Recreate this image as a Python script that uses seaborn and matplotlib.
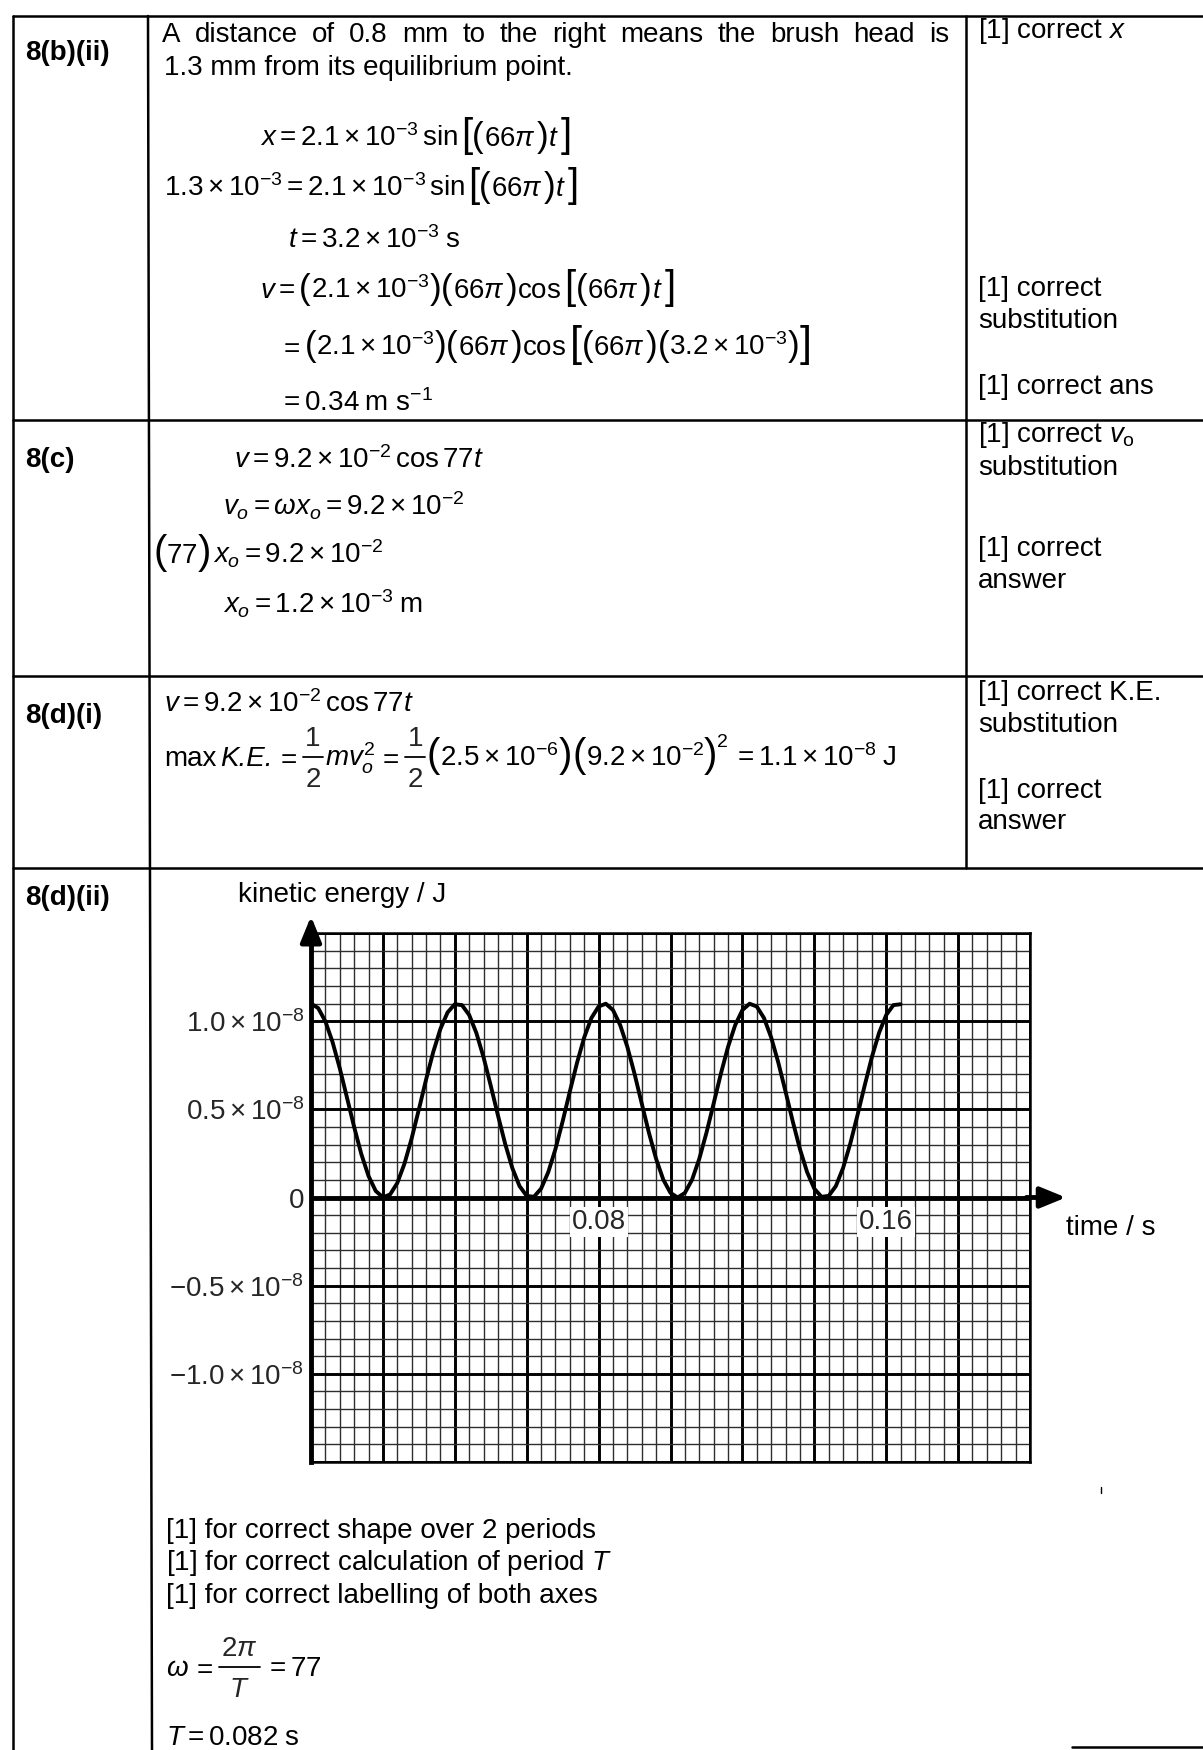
import matplotlib
matplotlib.use("Agg")
import matplotlib.pyplot as plt
import seaborn as sns
from matplotlib.ticker import MultipleLocator

# ---------------- data ----------------
time_s = [0.000, 0.002, 0.004, 0.006, 0.008, 0.010, 0.012, 0.014, 0.016, 0.018,
          0.020, 0.022, 0.024, 0.026, 0.028, 0.030, 0.032, 0.034, 0.036, 0.038,
          0.040, 0.042, 0.044, 0.046, 0.048, 0.050, 0.052, 0.054, 0.056, 0.058,
          0.060, 0.062, 0.064, 0.066, 0.068, 0.070, 0.072, 0.074, 0.076, 0.078,
          0.080, 0.082, 0.084, 0.086, 0.088, 0.090, 0.092, 0.094, 0.096, 0.098,
          0.100, 0.102, 0.104, 0.106, 0.108, 0.110, 0.112, 0.114, 0.116, 0.118,
          0.120, 0.122, 0.124, 0.126, 0.128, 0.130, 0.132, 0.134, 0.136, 0.138,
          0.140, 0.142, 0.144, 0.146, 0.148, 0.150, 0.152, 0.154, 0.156, 0.158,
          0.160, 0.162, 0.164]
# kinetic energy in units of 1e-8 J
ke_1e8 = [1.100, 1.074, 0.999, 0.881, 0.733, 0.567, 0.400, 0.246, 0.122, 0.037,
          0.001, 0.017, 0.082, 0.192, 0.335, 0.499, 0.668, 0.825, 0.956, 1.050,
          1.096, 1.091, 1.035, 0.933, 0.795, 0.634, 0.466, 0.305, 0.167, 0.065,
          0.009, 0.004, 0.050, 0.144, 0.275, 0.432, 0.601, 0.764, 0.908, 1.018,
          1.083, 1.099, 1.063, 0.978, 0.854, 0.701, 0.533, 0.367, 0.219, 0.101,
          0.026, 0.000, 0.026, 0.101, 0.219, 0.367, 0.533, 0.701, 0.854, 0.978,
          1.063, 1.099, 1.083, 1.018, 0.908, 0.764, 0.601, 0.432, 0.275, 0.144,
          0.050, 0.004, 0.009, 0.065, 0.167, 0.305, 0.466, 0.634, 0.795, 0.933,
          1.035, 1.091, 1.096]
y_tick_vals = [1.0, 0.5, 0.0, -0.5, -1.0]
y_tick_labels = [r"$1.0\times10^{-8}$", r"$0.5\times10^{-8}$", "0",
                 r"$-0.5\times10^{-8}$", r"$-1.0\times10^{-8}$"]
x_label_vals = [0.08, 0.16]
x_label_text = ["0.08", "0.16"]
x_limits = [0.0, 0.20]
y_limits = [-1.5, 1.5]

# ---------------- style ----------------
sns.set_style("white")
plt.rcParams['font.family'] = ['Liberation Sans', 'DejaVu Sans']
plt.rcParams['mathtext.fontset'] = 'custom'
plt.rcParams['mathtext.rm'] = 'Liberation Sans'
plt.rcParams['mathtext.it'] = 'Liberation Sans:italic'
plt.rcParams['mathtext.bf'] = 'Liberation Sans:bold'
plt.rcParams['mathtext.sf'] = 'Liberation Sans'

FS = 20
W, H = 1203, 1750
fig = plt.figure(figsize=(W / 100, H / 100), dpi=100)
fig.patch.set_facecolor('white')

bg = fig.add_axes([0, 0, 1, 1], zorder=0)
bg.set_xlim(0, W)
bg.set_ylim(H, 0)
bg.axis('off')
rend = fig.canvas.get_renderer()


def T(x, yc, s, **kw):
    kw.setdefault('fontsize', FS)
    return bg.text(x, yc + 9, s, va='baseline', ha='left', color='black', **kw)


def seq(x, yc, parts):
    """Place text pieces one after another (tall brackets, stacked fractions)."""
    xx = x
    for p in parts:
        if isinstance(p, (int, float)):
            xx += p
            continue
        if isinstance(p, str):
            p = (p,)
        if p[0] == 'FRAC':
            tn = bg.text(0, yc - 11, p[1], va='baseline', ha='center', fontsize=FS)
            td = bg.text(0, yc + 30, p[2], va='baseline', ha='center', fontsize=FS)
            wn = tn.get_window_extent(rend).width
            wd = td.get_window_extent(rend).width
            wf = max(wn, wd) + 6
            tn.set_x(xx + wf / 2)
            td.set_x(xx + wf / 2)
            bg.plot([xx + 1, xx + wf - 1], [yc, yc], color='k', lw=1.3)
            xx += wf
            continue
        s = p[0]
        fs = p[1] if len(p) > 1 else FS
        dy = p[2] if len(p) > 2 else 0
        kw = p[3] if len(p) > 3 else {}
        t = bg.text(xx, yc + 9 + dy, s, va='baseline', ha='left', color='black',
                    fontsize=fs, **kw)
        xx += t.get_window_extent(rend).width


def B(c, fs=29):
    return (c, fs, 1)


def P(c, fs=25):
    return (c, fs, 1)


# ---------------- table lines ----------------
LW = 1.8
bg.plot([13, W], [16, 16], color='k', lw=LW)
bg.plot([13, 13], [16, H], color='k', lw=LW)
bg.plot([148, 152], [16, H], color='k', lw=LW)
bg.plot([966, 966], [16, 868], color='k', lw=LW)
for yy in [420, 676, 868]:
    bg.plot([13, W], [yy, yy], color='k', lw=LW)
bg.plot([1072, W], [1747, 1747], color='k', lw=LW)
bg.plot([1101, 1101], [1487, 1493], color='k', lw=1)

# ---------------- row 8(b)(ii) ----------------
T(25, 51, "8(b)(ii)", weight='bold')
words = "A distance of 0.8 mm to the right means the brush head is".split()
wt = [T(0, 33, w) for w in words]
widths = [t.get_window_extent(rend).width for t in wt]
gap = ((949 - 162) - sum(widths)) / (len(words) - 1)
xx = 162
for t, w in zip(wt, widths):
    t.set_x(xx)
    xx += w + gap
T(164, 66, "1.3 mm from its equilibrium point.")
T(978, 29, "[1] correct $x$")

seq(260, 137, [r"$x = 2.1\times10^{-3}\,\sin$", 3, B("["), P("("), r"$66\pi$", 1, P(")"),
               r"$t$", 2, B("]")])
seq(164, 187, [r"$1.3\times10^{-3} = 2.1\times10^{-3}\,\sin$", 3, B("["), P("("), r"$66\pi$", 1,
               P(")"), r"$t$", 2, B("]")])
T(288, 239, r"$t = 3.2\times10^{-3}\;\mathrm{s}$")
seq(260, 289, [r"$v =$", 4, P("("), r"$2.1\times10^{-3}$", P(")"), P("("), r"$66\pi$", 1, P(")"),
               r"$\cos$", 3, B("["), P("("), r"$66\pi$", 1, P(")"), r"$t$", 2, B("]")])
seq(279, 346, [r"$=$", 4, P("("), r"$2.1\times10^{-3}$", P(")"), P("("), r"$66\pi$", 1, P(")"),
               r"$\cos$", 3, B("[", 31), P("("), r"$66\pi$", 1, P(")"), P("("),
               r"$3.2\times10^{-3}$", P(")"), B("]", 31)])
T(279, 402, r"$= 0.34\;\mathrm{m\ s^{-1}}$")
T(978, 287, "[1] correct")
T(978, 319, "substitution")
T(978, 385, "[1] correct ans")

# ---------------- row 8(c) ----------------
T(25, 458, "8(c)", weight='bold')
T(978, 433, r"[1] correct $v_\mathrm{o}$")
T(978, 466, "substitution")
T(978, 547, "[1] correct")
T(978, 579, "answer")
T(234, 459, r"$v = 9.2\times10^{-2}\,\cos 77t$")
T(223, 506, r"$v_o = \omega x_o = 9.2\times10^{-2}$")
seq(153, 554, [P("(", 29), r"$77$", P(")", 29), 2, r"$x_o = 9.2\times10^{-2}$"])
T(223, 605, r"$x_o = 1.2\times10^{-3}\;\mathrm{m}$")

# ---------------- row 8(d)(i) ----------------
T(25, 714, "8(d)(i)", weight='bold')
T(978, 691, "[1] correct K.E.")
T(978, 723, "substitution")
T(978, 789, "[1] correct")
T(978, 820, "answer")
T(164, 703, r"$v = 9.2\times10^{-2}\,\cos 77t$")
seq(164, 757, [("max",), 4, ("K.E.", FS, 0, {'style': 'italic'}), 3, r"$=$", 5,
               ('FRAC', '1', '2'), 1, r"$mv_o^2$", 3, r"$=$", 5, ('FRAC', '1', '2'), 1,
               P("(", 29), r"$2.5\times10^{-6}$", P(")", 29), P("(", 29),
               r"$9.2\times10^{-2}$", P(")", 29), ("2", 14, -19), 5,
               r"$= 1.1\times10^{-8}\;\mathrm{J}$"])

# ---------------- row 8(d)(ii) ----------------
T(25, 896, "8(d)(ii)", weight='bold')
T(238, 893, "kinetic energy / J")
T(1066, 1226, "time / s")
T(166, 1529, "[1] for correct shape over 2 periods")
T(166, 1561, "[1] for correct calculation of period $T$")
T(166, 1594, "[1] for correct labelling of both axes")
seq(166, 1667, [r"$\omega$", 3, r"$=$", 5, ('FRAC', r"$2\pi$", r"$T$"), 4, r"$= 77$"])
T(166, 1736, r"$T = 0.082\;\mathrm{s}$")

# ---------------- the graph ----------------
L, R, TOP, BOT = 311, 1030, 933, 1462
ax = fig.add_axes([L / W, 1 - BOT / H, (R - L) / W, (BOT - TOP) / H], zorder=2)
ax.set_facecolor('white')
ax.set_xlim(*x_limits)
ax.set_ylim(*y_limits)
ax.xaxis.set_major_locator(MultipleLocator(0.02))
ax.xaxis.set_minor_locator(MultipleLocator(0.004))
ax.set_yticks(y_tick_vals, labels=y_tick_labels)
ax.yaxis.set_minor_locator(MultipleLocator(0.1))
ax.grid(which='minor', color='#2e2e2e', lw=1.0)
ax.grid(which='major', axis='x', color='k', lw=2.1)
for v in [-1.5, -1.0, -0.5, 0.5, 1.0, 1.5]:
    ax.axhline(v, color='k', lw=2.1, zorder=1)
ax.set_axisbelow(True)
ax.tick_params(axis='x', which='both', length=0, labelbottom=False)
ax.tick_params(axis='y', which='both', length=0, pad=5, labelsize=FS)
for s in ['top', 'right', 'bottom']:
    ax.spines[s].set_color('k')
    ax.spines[s].set_linewidth(1.8)
ax.spines['left'].set_color('k')
ax.spines['left'].set_linewidth(3.5)

ax.axhline(0, color='k', lw=3.5, zorder=3)
sns.lineplot(x=time_s, y=ke_1e8, ax=ax, color='black', linewidth=2.8, sort=False, zorder=5)

for v, s in zip(x_label_vals, x_label_text):
    ax.text(v, -0.14, s, ha='center', va='center', fontsize=FS, zorder=6,
            bbox=dict(facecolor='white', edgecolor='none', pad=1.5))

ax.annotate('', xy=(0.21, 0), xytext=(0.199, 0), annotation_clip=False,
            arrowprops=dict(arrowstyle='-|>,head_length=1.1,head_width=0.45', lw=3.5,
                            color='k', mutation_scale=14, shrinkA=0, shrinkB=0))
ax.annotate('', xy=(0, 1.595), xytext=(0, 1.49), annotation_clip=False,
            arrowprops=dict(arrowstyle='-|>,head_length=1.1,head_width=0.45', lw=3.5,
                            color='k', mutation_scale=14, shrinkA=0, shrinkB=0))
ax.set_xlabel('')
ax.set_ylabel('')

fig.savefig('out.png', dpi=100, facecolor='white')
